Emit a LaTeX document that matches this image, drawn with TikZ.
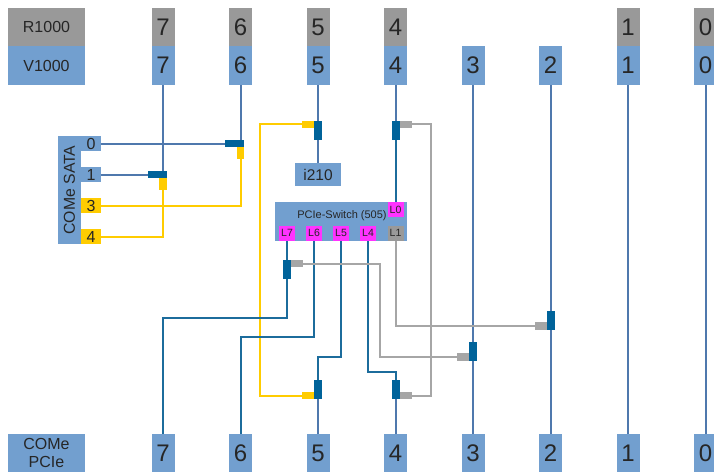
\documentclass[tikz,border=0pt]{standalone}
\usepackage{fontspec}
\setmainfont{Liberation Sans}
\usetikzlibrary{positioning,backgrounds}
\definecolor{cbox}{HTML}{729FCF}
\definecolor{cgray}{HTML}{999999}
\definecolor{cwire}{HTML}{4F78AD}
\definecolor{cdark}{HTML}{00639A}
\definecolor{cpcie}{HTML}{1C6C9C}
\definecolor{cyell}{HTML}{FFCC00}
\definecolor{csilv}{HTML}{A6A6A6}
\definecolor{cpink}{HTML}{FF33FF}
\newcommand{\fsize}[1]{\fontsize{#1}{#1}\selectfont}

\begin{document}
\begin{tikzpicture}[
    x=1pt,y=-1pt,
    every node/.style={outer sep=0pt},
    box/.style={fill=cbox,inner sep=0pt,text=black!85},
    title/.style={box,minimum width=77pt,minimum height=38.5pt,font=\fsize{16}},
    slot/.style={box,minimum width=23pt,minimum height=38.5pt,font=\fsize{24}},
    rslot/.style={slot,fill=cgray},
    pin/.style={box,minimum width=20pt,minimum height=15.5pt,font=\fsize{16}},
    ypin/.style={pin,fill=cyell},
    lane/.style={box,fill=cpink,minimum width=16pt,minimum height=15.5pt,font=\fsize{10.5}},
    vjoin/.style={fill=cdark,inner sep=0pt,minimum width=8pt,minimum height=19pt},
    hjoin/.style={fill=cdark,inner sep=0pt,minimum width=19pt,minimum height=7.5pt},
    ystub/.style={fill=cyell,inner sep=0pt,minimum width=12pt,minimum height=7.5pt},
    ydrop/.style={fill=cyell,inner sep=0pt,minimum width=7.5pt,minimum height=12pt},
    gstub/.style={fill=csilv,inner sep=0pt,minimum width=12pt,minimum height=7.5pt},
    wire/.style={draw=cwire,line width=2pt},
    pwire/.style={draw=cpcie,line width=2pt},
    ywire/.style={draw=cyell,line width=2pt},
    gwire/.style={draw=csilv,line width=2pt}]
    \useasboundingbox (0,0) rectangle (714,473);
    % header rows
    \node[title,fill=cgray] (r1000) at (46.5,27) {R1000};
    \node[title,below=0pt of r1000] (v1000) {V1000};
    \node[rslot] (r7) at (163,27) {7};
    \node[slot,below=0pt of r7] (v7) {7};
    \node[slot,right=54.5pt of v7] (v6) {6};
    \node[slot,right=54.5pt of v6] (v5) {5};
    \node[slot,right=54.5pt of v5] (v4) {4};
    \node[slot,right=54.5pt of v4] (v3) {3};
    \node[slot,right=54.5pt of v3] (v2) {2};
    \node[slot,right=54.5pt of v2] (v1) {1};
    \node[slot,right=54.5pt of v1] (v0) {0};
    \node[rslot,above=0pt of v6] (r6) {6};
    \node[rslot,above=0pt of v5] (r5) {5};
    \node[rslot,above=0pt of v4] (r4) {4};
    \node[rslot,above=0pt of v1] (r1) {1};
    \node[rslot,above=0pt of v0] (r0) {0};
    % bottom row
    \node[title,below=349pt of v1000,align=center] (come) {COMe\\[1.5pt]PCIe};
    \node[slot,below=349pt of v7] (p7) {7};
    \node[slot,below=349pt of v6] (p6) {6};
    \node[slot,below=349pt of v5] (p5) {5};
    \node[slot,below=349pt of v4] (p4) {4};
    \node[slot,below=349pt of v3] (p3) {3};
    \node[slot,below=349pt of v2] (p2) {2};
    \node[slot,below=349pt of v1] (p1) {1};
    \node[slot,below=349pt of v0] (p0) {0};
    % sata header
    \node[box,rotate=90,minimum width=108.5pt,minimum height=23pt,font=\fsize{15.8}] (sata) at (69.5,190) {COMe SATA};
    \node[pin]  (s0) at (91,143.7) {0};
    \node[pin,below=15.5pt of s0]  (s1) {1};
    \node[ypin,below=15.5pt of s1] (s3) {3};
    \node[ypin,below=15.5pt of s3] (s4) {4};
    % switch
    \node[box,minimum width=132pt,minimum height=39pt] (switch) at (341,221.5) {};
    \node[font=\fsize{11},text=black!85,inner sep=0pt] (swname) at (342,216) {PCIe-Switch (505)};
    \node[lane] (l0) at (395.5,209.7) {L0};
    \node[lane,fill=cgray] (l1) at (395.5,233.3) {L1};
    \node[lane] (l4) at (368,233.3) {L4};
    \node[lane] (l5) at (341,233.3) {L5};
    \node[lane] (l6) at (314,233.3) {L6};
    \node[lane] (l7) at (287,233.3) {L7};
    \node[box,minimum width=46pt,minimum height=23pt,font=\fsize{15.5}] (i210) at (318,174.5) {i210};
    % joints
    \node[hjoin] (j6) at (234.5,143.7) {};
    \node[ydrop] (y6) at (240.5,153.4) {};
    \node[hjoin] (j7) at (157,174.7) {};
    \node[ydrop] (y7) at (163,184.4) {};
    \node[vjoin] (t5) at (318,130.5) {};
    \node[ystub] (yt5) at (308,124.5) {};
    \node[vjoin] (t4) at (395.5,130.5) {};
    \node[gstub] (gt4) at (405.5,124.5) {};
    \node[vjoin] (jl7) at (287,269.5) {};
    \node[gstub] (gl7) at (297,263.7) {};
    \node[vjoin] (j3) at (473,351) {};
    \node[gstub] (g3) at (463,357) {};
    \node[vjoin] (j2) at (550.5,320) {};
    \node[gstub] (g2) at (541,326) {};
    \node[vjoin] (b5) at (318,389.5) {};
    \node[ystub] (yb5) at (308,395.5) {};
    \node[vjoin] (b4) at (395.5,389.5) {};
    \node[gstub] (gb4) at (405.5,395.5) {};
    \coordinate (yturn) at (260,395.5);
    \coordinate (gturn) at (430.5,395.5);
    \coordinate (c7) at (287,317.7);
    \coordinate (c6) at (314,337);
    \coordinate (c5) at (341,356.7);
    \coordinate (c4) at (368,372);
    \coordinate (g7) at (380,357);
    \begin{scope}[on background layer]
      \draw[wire] (v7) -- (v7 |- j7);
      \draw[wire] (v6) -- (v6 |- j6);
      \draw[wire] (v5) -- (i210);
      \draw[wire] (v4) -- (t4);
      \draw[wire] (v3) -- (p3);
      \draw[wire] (v2) -- (p2);
      \draw[wire] (v1) -- (p1);
      \draw[wire] (v0) -- (p0);
      \draw[wire] (s0) -- (j6);
      \draw[wire] (s1) -- (j7);
      \draw[ywire] (s3) -| (y6);
      \draw[ywire] (s4) -| (y7);
      \draw[ywire] (yt5) -| (yturn) -- (yb5);
      \draw[gwire] (gt4) -| (gturn) -- (gb4);
      \draw[pwire] (l0) -- (t4);
      \draw[pwire] (l7) -- (jl7);
      \draw[pwire] (jl7) -- (c7) -| (p7);
      \draw[pwire] (l6) -- (c6) -| (p6);
      \draw[pwire] (l5) -- (c5) -| (b5);
      \draw[pwire] (l4) -- (c4) -| (b4);
      \draw[wire] (b5) -- (p5);
      \draw[wire] (b4) -- (p4);
      \draw[gwire] (gl7) -| (g7) -- (g3);
      \draw[gwire] (l1) |- (g2);
    \end{scope}
  \end{tikzpicture}
\end{document}
